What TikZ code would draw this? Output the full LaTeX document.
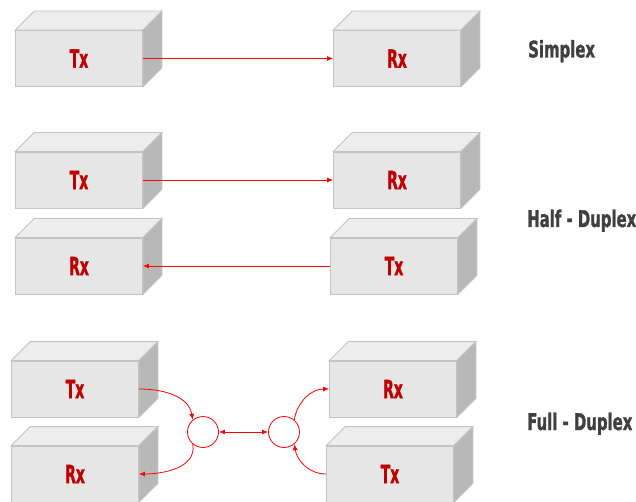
\documentclass[tikz,border=0pt]{standalone}
\usepackage{fontspec}
\usetikzlibrary{arrows.meta}
\newfontfamily\boxfont[FakeStretch=0.62,FakeBold=1.2]{DejaVu Sans Condensed Bold}
\newfontfamily\modefont[FakeStretch=0.72,FakeBold=1.2]{DejaVu Sans Condensed Bold}
\definecolor{frontgray}{HTML}{E6E6E6}
\definecolor{topgray}{HTML}{EDEDED}
\definecolor{sidegray}{HTML}{B8B8B8}
\definecolor{edgegray}{HTML}{C4C4C4}
\definecolor{txtred}{HTML}{C00000}
\definecolor{labelgray}{HTML}{404040}
\begin{document}
\begin{tikzpicture}[x=1pt,y=1pt]
            \tikzstyle{unit}=[rectangle, fill=frontgray, draw=edgegray, line width=0.8pt, minimum width=127pt, minimum height=56pt, inner sep=0pt, font=\boxfont\fontsize{25}{25}\selectfont, text=txtred]
            \tikzstyle{mode}=[anchor=base west, inner sep=0pt, font=\modefont\fontsize{23}{23}\selectfont, text=labelgray]
            \tikzstyle{link}=[red, line width=0.8pt, -{Latex[length=6pt,width=5pt]}]
            \tikzstyle{hub}=[circle, draw=red, line width=0.8pt, minimum width=31pt, minimum height=29pt, inner sep=0pt]
            \useasboundingbox (0,0) rectangle (636,-502);

            % simplex
            \node[unit] (tx1) at (79,-58.5) {Tx};
            \node[unit] (rx1) at (397,-58.5) {Rx};
            % half duplex
            \node[unit] (tx2) at (79,-180) {Tx};
            \node[unit] (rx2) at (397,-180) {Rx};
            \node[unit] (rx3) at (79,-266) {Rx};
            \node[unit] (tx3) at (394,-266) {Tx};
            % full duplex
            \node[unit] (tx4) at (75,-389) {Tx};
            \node[unit] (rx4) at (75,-474) {Rx};
            \node[unit] (rx5) at (393,-389) {Rx};
            \node[unit] (tx5) at (390,-474) {Tx};

            % top and side of each box
            \foreach \b in {tx1,rx1,tx2,rx2,rx3,tx3,tx4,rx4,rx5,tx5} {
                \filldraw[fill=topgray, draw=edgegray, line width=0.8pt]
                    (\b.north west) -- ++(19,19) -- ([shift={(19,19)}]\b.north east) -- (\b.north east) -- cycle;
                \filldraw[fill=sidegray, draw=edgegray, line width=0.8pt]
                    (\b.north east) -- ++(19,19) -- ([shift={(19,19)}]\b.south east) -- (\b.south east) -- cycle;
            }

            \node[mode] (simplex) at (528,-57.5) {Simplex};
            \node[mode] (half) at (527,-227) {Half - Duplex};
            \node[mode] (full) at (527,-430) {Full - Duplex};

            \draw[link] (tx1.east) -- (rx1.west);
            \draw[link] (tx2.east) -- (rx2.west);
            \draw[link] (tx3.west) -- (rx3.east);

            \node[hub] (h1) at (203,-432) {};
            \node[hub] (h2) at (284,-432) {};

            \draw[link] (tx4.east) to[out=0,in=100] (h1.130);
            \draw[link] (h1.230) to[out=-80,in=0] (rx4.east);
            \draw[link, {Latex[length=6pt,width=5pt]}-{Latex[length=6pt,width=5pt]}] (h1.east) -- (h2.west);
            \draw[link] (h2.50) to[out=80,in=180] (rx5.west);
            \draw[link] (tx5.west) to[out=180,in=-80] (h2.310);
\end{tikzpicture}
\end{document}
